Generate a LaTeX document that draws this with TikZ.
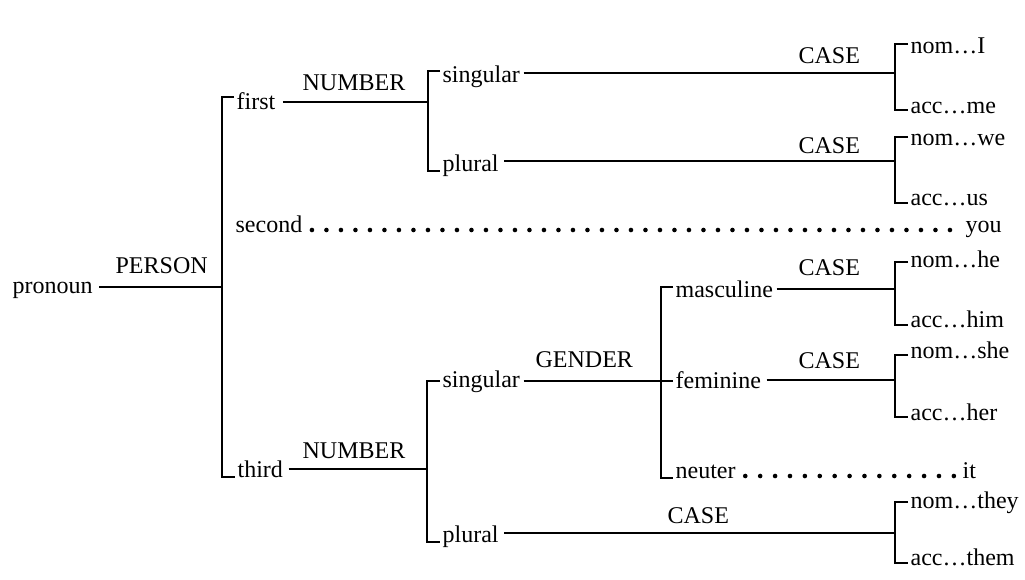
\documentclass[tikz,border=0pt]{standalone}
\usepackage{fontspec}
\setmainfont{Liberation Serif}
\begin{document}
\begin{tikzpicture}[x=1pt,y=-1pt,line width=1.3pt,
  lbl/.style={anchor=base west,inner sep=0pt,font=\fontsize{24}{28}\selectfont},
  dotrow/.style={line width=4.6pt,line cap=round,dash pattern=on 0pt off #1}]
\useasboundingbox[fill=white] (0,0) rectangle (1025,579);
% ---------------- PERSON ----------------
\node[lbl] (pronoun) at (12,293) {pronoun};
\node[lbl] (person) at (115,273) {PERSON};
\coordinate (pj) at (222,287);
\coordinate (ptop) at (222,97);
\coordinate (pbot) at (222,477);
\node[lbl] (first) at (236,109) {first};
\node[lbl] (second) at (235,232) {second};
\node[lbl] (third) at (237,477) {third};
\draw ([xshift=6pt]pronoun.east |- pj) -- (pj);
\draw ([xshift=-2pt]first.west |- ptop) -- (ptop) -- (pbot) -- ([xshift=-2pt]third.west |- pbot);
% ---------------- first: NUMBER ----------------
\coordinate (naj) at (428,102);
\coordinate (natop) at (428,71);
\coordinate (nabot) at (428,171);
\node[lbl] (numa) at (302,90) {NUMBER};
\node[lbl] (sga) at (442,82) {singular};
\node[lbl] (pla) at (442,171) {plural};
\draw ([xshift=7pt]first.east |- naj) -- (naj);
\draw ([xshift=-2pt]sga.west |- natop) -- (natop) -- (nabot) -- ([xshift=-2pt]pla.west |- nabot);
% CASE (first singular)
\coordinate (caj) at (895,73);
\coordinate (catop) at (895,44);
\coordinate (cabot) at (895,110);
\node[lbl] (casea) at (798,63) {CASE};
\node[lbl] (noma) at (910,53) {nom…I};
\node[lbl] (acca) at (910,113) {acc…me};
\draw ([xshift=3pt]sga.east |- caj) -- (caj);
\draw ([xshift=-2pt]noma.west |- catop) -- (catop) -- (cabot) -- ([xshift=-2pt]acca.west |- cabot);
% CASE (first plural)
\coordinate (cbj) at (895,161);
\coordinate (cbtop) at (895,137);
\coordinate (cbbot) at (895,203);
\node[lbl] (caseb) at (798,153) {CASE};
\node[lbl] (nomb) at (910,145) {nom…we};
\node[lbl] (accb) at (910,205) {acc…us};
\draw ([xshift=5pt]pla.east |- cbj) -- (cbj);
\draw ([xshift=-2pt]nomb.west |- cbtop) -- (cbtop) -- (cbbot) -- ([xshift=-2pt]accb.west |- cbbot);
% ---------------- second ----------------
\node[lbl] (you) at (965,232) {you};
\draw[dotrow=14.5pt] ([xshift=9pt,yshift=2pt]second.base east) -- ([xshift=-15pt,yshift=2pt]you.base west);
% ---------------- third: NUMBER ----------------
\coordinate (ncj) at (427,469);
\coordinate (nctop) at (427,381);
\coordinate (ncbot) at (427,542);
\node[lbl] (numc) at (302,458) {NUMBER};
\node[lbl] (sgc) at (442,387) {singular};
\node[lbl] (plc) at (442,542) {plural};
\draw ([xshift=5pt]third.east |- ncj) -- (ncj);
\draw ([xshift=-2pt]sgc.west |- nctop) -- (nctop) -- (ncbot) -- ([xshift=-2pt]plc.west |- ncbot);
% GENDER
\coordinate (gj) at (661,381);
\coordinate (gtop) at (661,287);
\coordinate (gbot) at (661,478);
\node[lbl] (gender) at (535,367) {GENDER};
\node[lbl] (masc) at (675,297) {masculine};
\node[lbl] (fem) at (675,388) {feminine};
\node[lbl] (neut) at (675,478) {neuter};
\draw ([xshift=3pt]sgc.east |- gj) -- (gj) -- ([xshift=-2pt]fem.west |- gj);
\draw ([xshift=-2pt]masc.west |- gtop) -- (gtop) -- (gbot) -- ([xshift=-2pt]neut.west |- gbot);
% CASE (masculine)
\coordinate (cmj) at (895,289);
\coordinate (cmtop) at (895,262);
\coordinate (cmbot) at (895,325);
\node[lbl] (casem) at (798,275) {CASE};
\node[lbl] (nomm) at (910,267) {nom…he};
\node[lbl] (accm) at (910,327) {acc…him};
\draw ([xshift=3pt]masc.east |- cmj) -- (cmj);
\draw ([xshift=-2pt]nomm.west |- cmtop) -- (cmtop) -- (cmbot) -- ([xshift=-2pt]accm.west |- cmbot);
% CASE (feminine)
\coordinate (cfj) at (895,380);
\coordinate (cftop) at (895,355);
\coordinate (cfbot) at (895,417);
\node[lbl] (casef) at (798,368) {CASE};
\node[lbl] (nomf) at (910,358) {nom…she};
\node[lbl] (accf) at (910,420) {acc…her};
\draw ([xshift=5pt]fem.east |- cfj) -- (cfj);
\draw ([xshift=-2pt]nomf.west |- cftop) -- (cftop) -- (cfbot) -- ([xshift=-2pt]accf.west |- cfbot);
% neuter
\node[lbl] (it) at (962,478) {it};
\draw[dotrow=14.9pt] ([xshift=9pt,yshift=2pt]neut.base east) -- ([xshift=-5pt,yshift=2pt]it.base west);
% CASE (third plural)
\coordinate (cpj) at (895,533);
\coordinate (cptop) at (895,502);
\coordinate (cpbot) at (895,563);
\node[lbl] (casep) at (667,523) {CASE};
\node[lbl] (nomp) at (910,508) {nom…they};
\node[lbl] (accp) at (910,565) {acc…them};
\draw ([xshift=5pt]plc.east |- cpj) -- (cpj);
\draw ([xshift=-2pt]nomp.west |- cptop) -- (cptop) -- (cpbot) -- ([xshift=-2pt]accp.west |- cpbot);
\end{tikzpicture}
\end{document}
